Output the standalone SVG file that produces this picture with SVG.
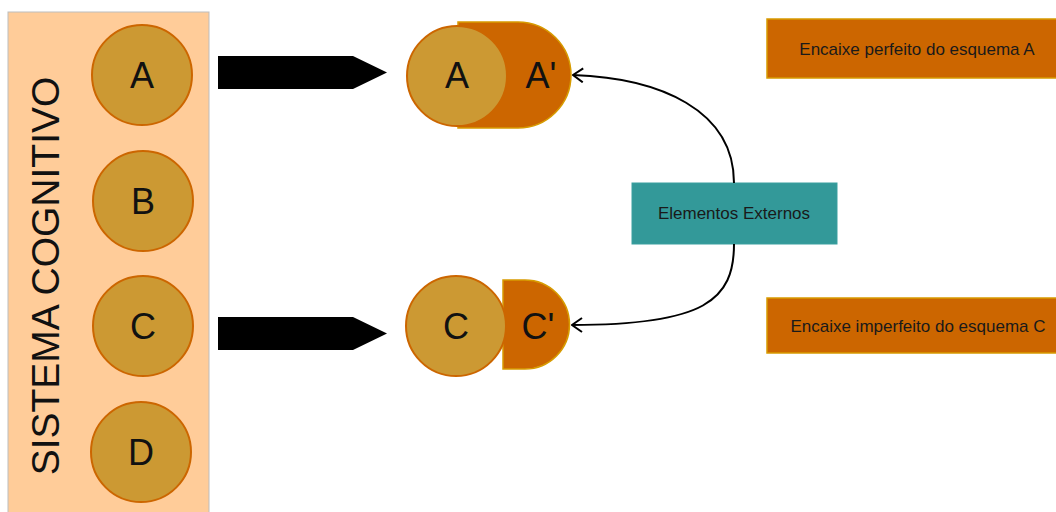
<svg xmlns="http://www.w3.org/2000/svg" width="1056" height="512" viewBox="0 0 1056 512">
<defs>
<style>
.t{font-family:"Liberation Sans",Arial,sans-serif;fill:#111;text-anchor:middle}
.big{font-size:36px}
.sm{font-size:17px;fill:#1a1a1a}
.circ{fill:#CC9933;stroke:#CC6600;stroke-width:2}
.org{fill:#CC6600;stroke:#D79B00;stroke-width:1.5}
.conn{fill:none;stroke:#000;stroke-width:2}
</style>
<marker id="open" viewBox="0 0 12 16" refX="11" refY="8" markerWidth="12" markerHeight="16" markerUnits="userSpaceOnUse" orient="auto">
<path d="M1,1 L11,8 L1,15" fill="none" stroke="#000" stroke-width="2"/>
</marker>
</defs>
<g id="sistema">
<rect x="8" y="12" width="201" height="510" fill="#FFCC99" stroke="#BDBDBD" stroke-width="1"/>
<text class="t" transform="translate(59,276) rotate(-90)" font-size="39">SISTEMA COGNITIVO</text>
</g>
<g id="nodeA"><circle class="circ" cx="142" cy="75" r="50"/><text class="t big" x="142" y="88">A</text></g>
<g id="nodeB"><circle class="circ" cx="143" cy="201" r="50"/><text class="t big" x="143" y="214">B</text></g>
<g id="nodeC"><circle class="circ" cx="143" cy="326" r="50"/><text class="t big" x="143" y="339">C</text></g>
<g id="nodeD"><circle class="circ" cx="141" cy="452" r="50"/><text class="t big" x="141" y="465">D</text></g>
<g id="arrowA"><path d="M218,56 H353 L387,72.5 L353,89 H218 Z" fill="#000"/></g>
<g id="arrowC"><path d="M218,317 H353 L387,333.5 L353,350 H218 Z" fill="#000"/></g>
<g id="nodeAA">
<path class="org" d="M458,22 H518 A53,53 0 0 1 518,128 H458 Z"/>
<circle class="circ" cx="457" cy="76" r="50" stroke-width="1.5"/>
<text class="t big" x="457" y="88">A</text>
<text class="t big" x="541" y="88">A'</text>
</g>
<g id="nodeCC">
<path class="org" d="M503,280 H525 A44.5,44.5 0 0 1 525,369 H503 Z"/>
<circle class="circ" cx="456" cy="326" r="50" stroke-width="1.5"/>
<text class="t big" x="456" y="339">C</text>
<text class="t big" x="538" y="339">C'</text>
</g>
<g id="externos">
<rect x="632" y="183" width="205" height="61" fill="#339999" stroke="#3a9f9f" stroke-width="1"/>
<text class="t sm" x="734" y="219">Elementos Externos</text>
</g>
<g id="perfeito">
<rect class="org" x="767" y="19" width="300" height="59" stroke-width="2"/>
<text class="t sm" x="917" y="55">Encaixe perfeito do esquema A</text>
</g>
<g id="imperfeito">
<rect class="org" x="767" y="298" width="300" height="55" stroke-width="2"/>
<text class="t sm" x="918" y="332">Encaixe imperfeito do esquema C</text>
</g>
<g id="connectors">
<path class="conn" d="M734,183 C734,110 660,78 573,75" marker-end="url(#open)"/>
<path class="conn" d="M734,244 C734,300 705,325 572,325" marker-end="url(#open)"/>
</g>
</svg>
